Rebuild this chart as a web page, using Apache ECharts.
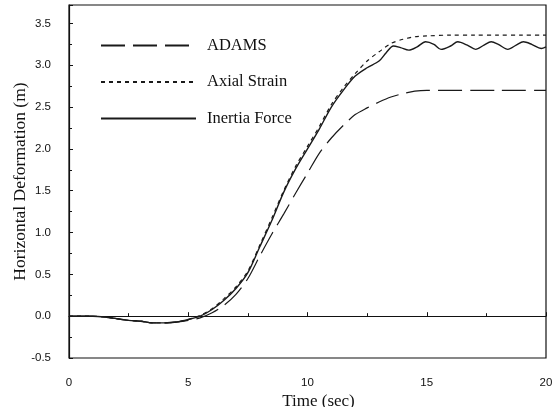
<!DOCTYPE html>
<html>
<head>
<meta charset="utf-8">
<script src="https://cdn.jsdelivr.net/npm/echarts@6/dist/echarts.min.js"></script>
<style>html,body{margin:0;padding:0;background:#fff;}#c{width:559px;height:407px;}</style>
</head>
<body>
<div id="c"></div>
<script>
// Time (sec) / Horizontal Deformation (m)
const adamsT = [0,0.5,1,1.5,2,2.5,3,3.5,4,4.5,5,5.5,6,6.5,7,7.5,8,8.5,9,9.5,10,10.5,11,11.5,12,12.5,13,13.5,14,14.5,15,16,17,18,19,20];
const adamsV = [0,0,0,-0.01,-0.03,-0.05,-0.06,-0.08,-0.08,-0.07,-0.05,-0.02,0.04,0.13,0.26,0.45,0.72,0.98,1.22,1.47,1.71,1.95,2.13,2.28,2.41,2.49,2.56,2.62,2.66,2.69,2.7,2.7,2.7,2.7,2.7,2.7];

const axialT = [0,0.5,1,1.5,2,2.5,3,3.5,4,4.5,5,5.5,6,6.5,7,7.5,8,8.5,9,9.5,10,10.5,11,11.5,12,12.5,13,13.5,14,14.5,15,16,17,18,19,20];
const axialV = [0,0,0,-0.01,-0.03,-0.05,-0.06,-0.08,-0.08,-0.07,-0.04,0.01,0.09,0.21,0.35,0.54,0.85,1.17,1.5,1.79,2.03,2.27,2.53,2.73,2.9,3.05,3.16,3.26,3.31,3.34,3.35,3.36,3.36,3.36,3.36,3.36];

const inertiaT = [0,0.5,1,1.5,2,2.5,3,3.5,4,4.5,5,5.5,6,6.5,7,7.5,8,8.5,9,9.5,10,10.5,11,11.5,12,12.5,13,13.3,13.6,13.9,14.25,14.6,14.95,15.3,15.6,16.0,16.3,16.7,17.05,17.4,17.7,18.0,18.4,18.75,19.05,19.4,19.8,20];
const inertiaV = [0,0,0,-0.01,-0.03,-0.05,-0.06,-0.08,-0.08,-0.07,-0.04,0.0,0.08,0.19,0.33,0.52,0.83,1.14,1.48,1.76,2.0,2.24,2.5,2.7,2.87,2.97,3.05,3.15,3.23,3.21,3.18,3.22,3.28,3.25,3.19,3.23,3.28,3.24,3.19,3.24,3.28,3.25,3.19,3.24,3.28,3.25,3.2,3.22];

const seriesNames = ['ADAMS','Axial Strain','Inertia Force'];
const xTicks = [0,5,10,15,20];
const yTicks = [-0.5,0,0.5,1,1.5,2,2.5,3,3.5];

function pairs(t, v){ return t.map((x,i)=>[x, v[i]]); }

const chart = echarts.init(document.getElementById('c'), null, {renderer:'canvas'});
const lineColor = '#1a1a1a';
chart.setOption({
  animation:false,
  backgroundColor:'#fff',
  grid:{left:69, right:13, top:5, bottom:49, outerBoundsMode:'none', containLabel:false,
        show:true, borderColor:'#111', borderWidth:1.2, backgroundColor:'transparent'},
  legend:{
    orient:'vertical', left:95, top:32, itemWidth:95, itemHeight:14, itemGap:19.5,
    data:seriesNames,
    itemStyle:{opacity:0},
    textStyle:{fontFamily:'Liberation Serif', fontSize:16.5, color:'#111', padding:[0,0,0,6]}
  },
  xAxis:{
    type:'value', min:xTicks[0], max:xTicks[xTicks.length-1], interval:5,
    name:'Time (sec)', nameLocation:'middle', nameGap:35, nameMoveOverlap:false,
    nameTextStyle:{fontFamily:'Liberation Serif', fontSize:17, color:'#111', padding:[0,0,0,22]},
    axisLine:{lineStyle:{color:'#111', width:1.2}},
    axisTick:{inside:true, length:4, lineStyle:{color:'#111'}},
    minorTick:{show:true, splitNumber:2, length:3, lineStyle:{color:'#111'}},
    axisLabel:{fontFamily:'Liberation Sans', fontSize:11.5, color:'#111', margin:19},
    splitLine:{show:false}
  },
  yAxis:{
    type:'value', min:yTicks[0], max:3.72, interval:0.5,
    name:'Horizontal Deformation (m)', nameLocation:'middle', nameGap:40, nameMoveOverlap:false,
    nameTextStyle:{fontFamily:'Liberation Serif', fontSize:17.5, color:'#111'},
    axisLine:{lineStyle:{color:'#111', width:1.2}},
    axisTick:{inside:true, length:4, lineStyle:{color:'#111'}},
    minorTick:{show:true, splitNumber:2, length:3, lineStyle:{color:'#111'}},
    axisLabel:{fontFamily:'Liberation Sans', fontSize:11.5, color:'#111', margin:18, showMaxLabel:false,
      formatter:v=>v.toFixed(1)},
    splitLine:{show:false}
  },
  series:[
    {name:seriesNames[0], type:'line', data:pairs(adamsT, adamsV), symbol:'none', smooth:0.3,
     lineStyle:{color:lineColor, width:1.2, type:[24,8]}, itemStyle:{color:lineColor}},
    {name:seriesNames[1], type:'line', data:pairs(axialT, axialV), symbol:'none', smooth:0.3,
     lineStyle:{color:lineColor, width:1.2, type:[4,4]}, itemStyle:{color:lineColor}},
    {name:seriesNames[2], type:'line', data:pairs(inertiaT, inertiaV), symbol:'none', smooth:0.3,
     lineStyle:{color:lineColor, width:1.4, type:'solid'}, itemStyle:{color:lineColor}}
  ]
});
</script>
</body>
</html>
